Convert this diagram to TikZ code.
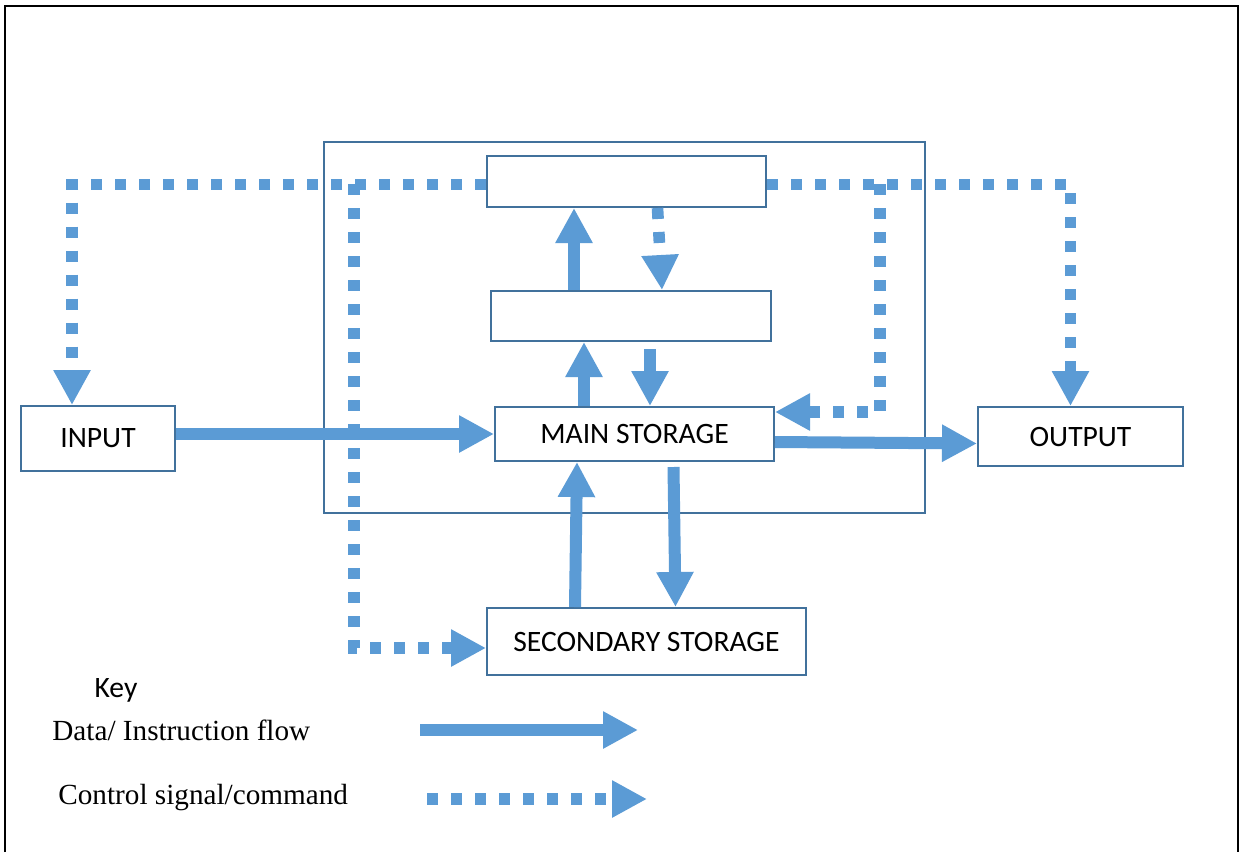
\documentclass[tikz,border=0pt]{standalone}
\usepackage{fontspec}
\setmainfont{Liberation Serif}
\newfontfamily\calib{Carlito}
\usetikzlibrary{arrows.meta,calc}
\definecolor{boxc}{HTML}{41719C}
\definecolor{arrc}{HTML}{5B9BD5}
\tikzset{
  box/.style={draw=boxc,line width=1pt,rectangle,inner sep=0pt,font=\calib\fontsize{14.8}{17}\selectfont},
  data/.style={draw=arrc,line width=6pt,-{Triangle[length=17.5pt,width=17.5pt]}},
  ctrl/.style={draw=arrc,line width=5.8pt,dash pattern=on 5.5pt off 6.5pt,-{Triangle[length=17.5pt,width=17.5pt]}},
  keytext/.style={anchor=west,inner sep=0pt,font=\fontsize{14.6}{17}\selectfont},
}
\begin{document}
\begin{tikzpicture}[x=0.5pt,y=-0.5pt]
\useasboundingbox (0,0) rectangle (1242,852);
\fill[white] (0,0) rectangle (1242,852);
\draw[black,line width=1.3pt] (5,852) -- (5,6) -- (1238,6) -- (1238,852);
% boxes
\node[box,minimum width=300.5pt,minimum height=185.5pt] (cpu) at (624.5,327.5) {};
\node[box,minimum width=139.5pt,minimum height=25.5pt,fill=white] (top) at (626.5,181.5) {};
\node[box,minimum width=140pt,minimum height=25pt] (mid) at (631,316) {};
\node[box,minimum width=139.5pt,minimum height=27pt] (main) at (634.5,434) {MAIN STORAGE};
\node[box,minimum width=77pt,minimum height=32.5pt] (input) at (98,438.5) {INPUT};
\node[box,minimum width=102.5pt,minimum height=29.5pt] (output) at (1080.5,436.5) {OUTPUT};
\node[box,minimum width=159.5pt,minimum height=33.5pt] (sec) at (646.5,641.5) {SECONDARY STORAGE};
% control lines
\coordinate (b1) at (354,184);
\coordinate (b2) at (880,184);
\draw[ctrl] ([yshift=-1.5pt]top.west) -| ([xshift=-13pt]input.north);
\draw[ctrl] (b1) |- ([yshift=-3.25pt]sec.west);
\draw[ctrl] ([yshift=-1.5pt]top.east) -| ([xshift=-5pt]output.north);
\draw[ctrl] (b2) |- ([yshift=11pt]main.east);
\draw[ctrl] ([xshift=15.5pt]top.south) -- ([xshift=15.5pt]mid.north);
% data lines
\draw[data] (input.east |- main.west) -- (main.west);
\draw[data] ([yshift=-4pt]main.east) -- ([yshift=-3.5pt]output.west);
\draw[data] (mid.north -| 574,0) -- (top.south -| 574,0);
\draw[data] ([xshift=-25.25pt]main.north) -- ([xshift=-23.5pt]mid.south);
\draw[data] ([xshift=9.5pt,yshift=-3.5pt]mid.south) -- ([xshift=7.75pt]main.north);
\draw[data] ([xshift=-35.75pt]sec.north) -- ([xshift=-28.75pt]main.south);
\draw[data] ([xshift=19.5pt,yshift=-2.5pt]main.south) -- ([xshift=14.5pt]sec.north);
% key
\node[font=\calib\fontsize{14.8}{17}\selectfont] (key) at (116,690) {Key};
\node[keytext] (kd) at (52,730) {Data/ Instruction flow};
\node[keytext] (kc) at (58,798) {Control signal/command};
\coordinate (k1) at (420,730);
\coordinate (k2) at (638,730);
\coordinate (k3) at (427,799);
\coordinate (k4) at (647,799);
\draw[data] (k1) -- (k2);
\draw[ctrl] (k3) -- (k4);
\end{tikzpicture}
\end{document}
